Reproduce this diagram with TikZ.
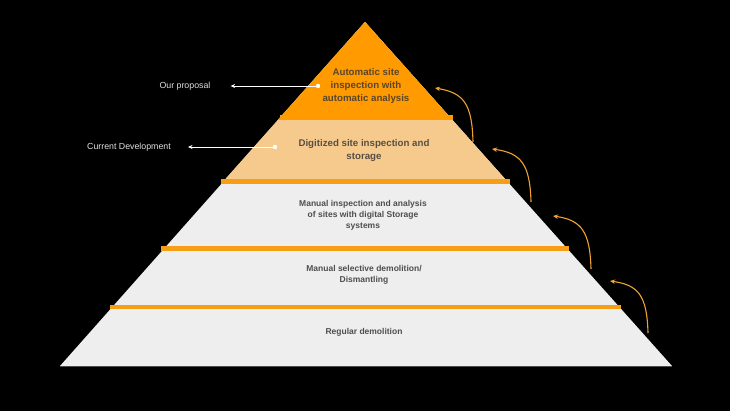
\documentclass[tikz,border=0pt]{standalone}
\usepackage{fontspec}
\setmainfont{Liberation Sans}
\usetikzlibrary{arrows.meta}
\definecolor{topor}{RGB}{255,154,0}
\definecolor{lightor}{RGB}{246,202,140}
\definecolor{pgray}{RGB}{238,238,238}
\definecolor{bandor}{RGB}{245,158,22}
\definecolor{arrowor}{RGB}{240,162,50}
\definecolor{txttop}{RGB}{90,70,42}
\definecolor{txtmid}{RGB}{88,78,68}
\definecolor{txtgray}{RGB}{78,78,78}
\tikzset{
  band/.style={fill=bandor, draw=none},
  lvltext/.style={align=center, inner sep=0pt, font=\bfseries\fontsize{8.5}{11}\selectfont, text=txtgray},
  bigtext/.style={align=center, inner sep=0pt, font=\bfseries\fontsize{9.7}{13}\selectfont},
  sidelabel/.style={inner sep=0pt, text=white!88!black, font=\fontsize{8.8}{11}\selectfont},
  pointer/.style={draw=white, line width=0.9pt, -{Stealth[length=4.5pt,width=4pt]}},
  climb/.style={draw=arrowor, line width=1.1pt, -{Stealth[length=5pt,width=4.5pt]}},
}
\begin{document}
\begin{tikzpicture}[x=1pt,y=-1pt]
\fill[black] (0,0) rectangle (730,411);
\useasboundingbox (0,0) rectangle (730,411);
% pyramid layers
\fill[pgray] (365,22) -- (672,366) -- (60,366) -- cycle;
\draw[black!70, line width=0.8pt] (60,366.4) -- (672,366.4);
\fill[lightor] (365,22) -- (507.8,182) -- (222.7,182) -- cycle;
\fill[topor] (365,22) -- (452.5,120) -- (277.8,120) -- cycle;
% bands
\fill[topor] (279.5,115.5) rectangle (452.5,120);
\fill[band] (221,179.5) rectangle (509.6,184);
\fill[band] (161.3,246.5) rectangle (569.4,251);
\fill[band] (109.7,304.5) rectangle (621.1,309);
% level texts
\node[bigtext, text=txttop] (t1) at (366,86) {Automatic site\\inspection with\\automatic analysis};
\node[bigtext, text=txtmid] (t2) at (364,150.5) {Digitized site inspection and\\storage};
\node[lvltext] (t3) at (363,215.5) {Manual inspection and analysis\\of sites with digital Storage\\systems};
\node[lvltext] (t4) at (364,274.5) {Manual selective demolition/\\Dismantling};
\node[lvltext] (t5) at (364,332) {Regular demolition};
% side labels
\node[sidelabel] (op) at (185,86) {Our proposal};
\node[sidelabel] (cd) at (129,147) {Current Development};
\coordinate (d1) at (318,86);
\coordinate (d2) at (275,147);
\fill[white] (d1) circle (2.2);
\fill[white] (d2) circle (2.2);
\draw[pointer, shorten >=20pt] (d1) -- (op.east);
\draw[pointer, shorten >=17pt] (d2) -- (cd.east);
% climbing arrows
\coordinate (a1s) at (473,142); \coordinate (a1e) at (435,88);
\coordinate (a2s) at (531,202); \coordinate (a2e) at (492,149);
\coordinate (a3s) at (591,269); \coordinate (a3e) at (553,216);
\coordinate (a4s) at (648,333); \coordinate (a4e) at (610,281);
\draw[climb] (a1s) .. controls (472,104) and (464,93) .. (a1e);
\draw[climb] (a2s) .. controls (530,164) and (521,153) .. (a2e);
\draw[climb] (a3s) .. controls (590,231) and (581,220) .. (a3e);
\draw[climb] (a4s) .. controls (647,295) and (638,285) .. (a4e);
\end{tikzpicture}
\end{document}
